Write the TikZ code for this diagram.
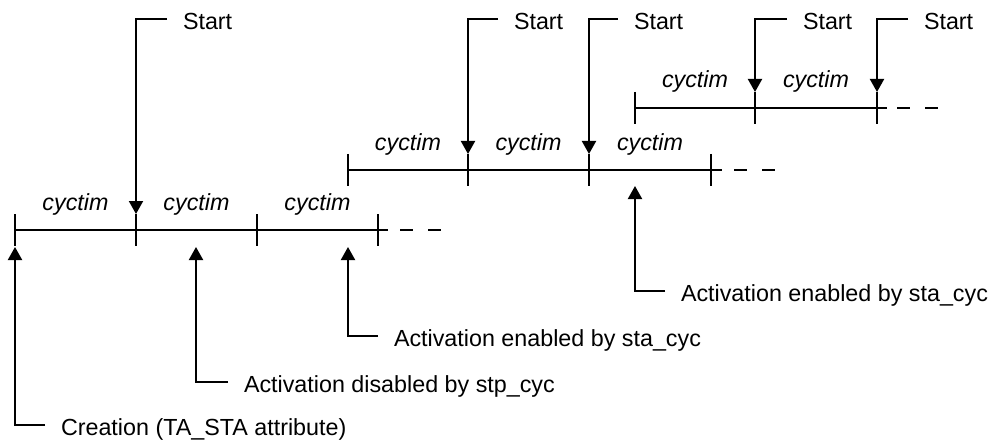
\documentclass[tikz,border=0pt]{standalone}
\usepackage{fontspec}
\setmainfont{Liberation Sans}
\usetikzlibrary{arrows.meta}
\begin{document}
\begin{tikzpicture}[x=1pt,y=-1pt,line width=2pt,
  lbl/.style={anchor=west,inner xsep=15pt,inner ysep=0pt,text height=21pt,text depth=0pt,font=\fontsize{23.3}{28}\selectfont},
  cyc/.style={anchor=base,inner sep=0pt,font=\fontsize{23.3}{28}\selectfont\itshape},
  arr/.style={-{Triangle[width=14pt,length=13pt]}},
  dashtail/.style={dash pattern=on 13pt off 15pt}]
\useasboundingbox (0,0) rectangle (999,441);

% timeline 1
\foreach \x in {15,136,257,378} \draw (\x,214) -- (\x,246);
\coordinate (l1a) at (15,230);
\coordinate (l1b) at (388,230);
\draw (l1a) -- (l1b);
\draw[dashtail] (400,230) -- (441,230);
% timeline 2
\foreach \x in {348,468,589,711} \draw (\x,154) -- (\x,186);
\coordinate (l2a) at (348,170);
\coordinate (l2b) at (722,170);
\draw (l2a) -- (l2b);
\draw[dashtail] (734,170) -- (775,170);
% timeline 3
\foreach \x in {635,755,877} \draw (\x,92) -- (\x,124);
\coordinate (l3a) at (635,108);
\coordinate (l3b) at (887,108);
\draw (l3a) -- (l3b);
\draw[dashtail] (897,108) -- (938,108);

% cyctim labels
\node[cyc] (c11) at (75.5,211) {cyctim};
\node[cyc] (c12) at (196.5,211) {cyctim};
\node[cyc] (c13) at (317.5,211) {cyctim};
\node[cyc] (c21) at (408,150) {cyctim};
\node[cyc] (c22) at (528.5,150) {cyctim};
\node[cyc] (c23) at (650,150) {cyctim};
\node[cyc] (c31) at (695,88) {cyctim};
\node[cyc] (c32) at (816,88) {cyctim};

% Start arrows
\coordinate (d1) at (136,214);
\coordinate (d2) at (468,154);
\coordinate (d3) at (589,154);
\coordinate (d4) at (755,92);
\coordinate (d5) at (877,92);
\node[lbl] (s1) at (167,19) {Start};
\node[lbl] (s2) at (498,19) {Start};
\node[lbl] (s3) at (618,19) {Start};
\node[lbl] (s4) at (787,19) {Start};
\node[lbl] (s5) at (908,19) {Start};
\foreach \i in {1,...,5} \draw[arr] (s\i.west) -| (d\i);

% bottom labels
\coordinate (u1) at (15,247);
\coordinate (u2) at (196,247);
\coordinate (u3) at (348,247);
\coordinate (u4) at (635,186);
\node[lbl] (b1) at (45,425) {Creation (TA\_STA attribute)};
\node[lbl] (b2) at (228,382) {Activation disabled by stp\_cyc};
\node[lbl] (b3) at (378,336) {Activation enabled by sta\_cyc};
\node[lbl] (b4) at (665,291) {Activation enabled by sta\_cyc};
\foreach \i in {1,...,4} \draw[arr] (b\i.west) -| (u\i);
\end{tikzpicture}
\end{document}
